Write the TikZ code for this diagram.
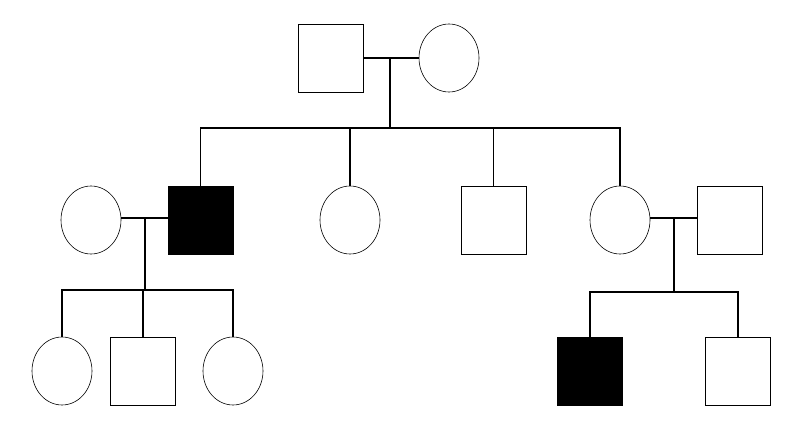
\documentclass[tikz,border=0pt]{standalone}
\usetikzlibrary{shapes.geometric}
\begin{document}
\begin{tikzpicture}[x=1pt,y=-1pt,
  male/.style={draw,line width=0.6pt,minimum width=65pt,minimum height=68pt,inner sep=0pt,rectangle},
  female/.style={draw,line width=0.6pt,minimum width=60pt,minimum height=68pt,inner sep=0pt,shape=ellipse},
  aff/.style={fill=black},
  link/.style={line width=1.6pt}]
\useasboundingbox (0,0) rectangle (808,444);
\node[male] (gf) at (331,58) {};
\node[female] (gm) at (449,58) {};
\node[female] (c1w) at (91,220) {};
\node[male,aff] (c1) at (200.5,220) {};
\node[female] (c2) at (350,220) {};
\node[male] (c3) at (493.5,220) {};
\node[female] (c4) at (620,220) {};
\node[male] (c4h) at (729.5,220) {};
\node[female] (g1) at (62,371) {};
\node[male] (g2) at (143,371) {};
\node[female] (g3) at (233,371) {};
\node[male,aff] (g4) at (590,371) {};
\node[male] (g5) at (738,371) {};
\coordinate (m0) at (390,58);
\coordinate (s0) at (390,128);
\coordinate (m1) at (145,218);
\coordinate (s1) at (145,290);
\coordinate (m2) at (674,218);
\coordinate (s2) at (674,292);
\draw[link] (gf.east) -- (gm.west);
\draw[link] (m0) -- (s0);
\draw[link] (c1.north) |- (s0) -| (c4.north);
\draw[link] (c2.north) -- (c2.north |- s0);
\draw[link] (c3.north) -- (c3.north |- s0);
\draw[link] (c1w.east |- m1) -- (c1.west |- m1);
\draw[link] (m1) -- (s1);
\draw[link] (g1.north) |- (s1) -| (g3.north);
\draw[link] (g2.north) -- (g2.north |- s1);
\draw[link] (c4.east |- m2) -- (c4h.west |- m2);
\draw[link] (m2) -- (s2);
\draw[link] (g4.north) |- (s2) -| (g5.north);
\end{tikzpicture}
\end{document}
